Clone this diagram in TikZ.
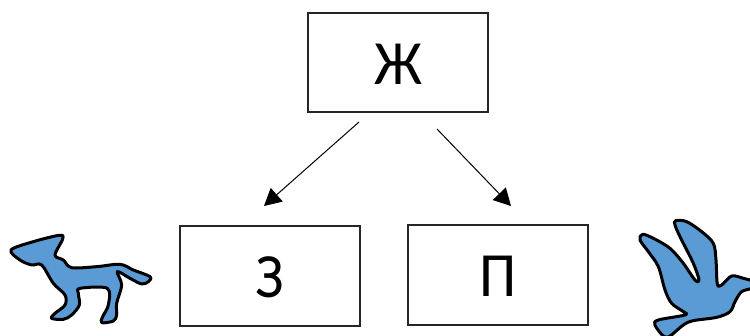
\documentclass[tikz,border=0pt]{standalone}
\usepackage{fontspec}
\usepackage{graphicx}
\setmainfont{Carlito}
\usetikzlibrary{arrows.meta}
\definecolor{shapeblue}{RGB}{91,155,213}
\newcommand\narrowglyph[1]{\scalebox{0.95}[1]{#1}}
\tikzset{
  letterbox/.style={draw=black!85,line width=1.1pt,inner sep=0pt,font=\fontsize{63}{63}\selectfont,text height=44pt,text depth=0pt,anchor=center},
  link/.style={draw=black,line width=1pt,-{Triangle[length=17pt,width=18pt]}},
  blob/.style={draw=black,fill=shapeblue,line width=3pt,line join=round}
}
\begin{document}
\begin{tikzpicture}[x=1pt,y=-1pt]
\useasboundingbox (0,0) rectangle (750,336);
\begin{scope}
\clip (0,0) rectangle (750,336);
\node[letterbox,minimum width=180pt,minimum height=99pt] (zh) at (398,62.5) {\narrowglyph{Ж}};
\node[letterbox,minimum width=180pt,minimum height=100pt] (ze) at (270,276) {\narrowglyph{З}};
\node[letterbox,minimum width=180pt,minimum height=100pt] (pe) at (498,275) {\narrowglyph{П}};
\coordinate (a1) at (359,122);
\coordinate (a2) at (264,206);
\coordinate (b1) at (437,129);
\coordinate (b2) at (511,206);
\draw[link] (a1) -- (a2);
\draw[link] (b1) -- (b2);
% dog
\begin{scope}[shift={(0,225)},x=0.3333pt,y=-0.3333pt]
\draw[blob] plot[smooth cycle,tension=0.55] coordinates {
(33,75) (100,50) (178,31) (188,42) (165,90) (190,105) (215,128) (290,125) (360,118)
(400,135) (450,155) (445,170) (425,177) (390,160) (352,140) (365,180) (350,235)
(350,270) (340,288) (305,293) (308,275) (325,240) (322,190) (240,190) (235,205)
(238,240) (215,270) (190,283) (155,280) (165,265) (195,240) (195,210) (160,175)
(125,120) (95,120) (60,105)};
\end{scope}
% bird
\begin{scope}[shift={(630,210)},x=0.3333pt,y=-0.3333pt]
\draw[blob] plot[smooth cycle,tension=0.55] coordinates {
(137,32) (170,35) (215,65) (250,100) (258,150) (262,222) (275,225) (305,198) (340,205)
(370,215) (370,233) (335,245) (315,275) (300,305) (260,322) (190,332) (160,345)
(120,378) (100,378) (75,345) (85,330) (165,315) (160,305) (125,280) (105,240) (85,170)
(55,125) (30,90) (38,73) (70,85) (120,115) (160,160) (195,210) (207,210) (190,160)
(150,80) (135,45)};
\end{scope}
\end{scope}
\end{tikzpicture}
\end{document}
